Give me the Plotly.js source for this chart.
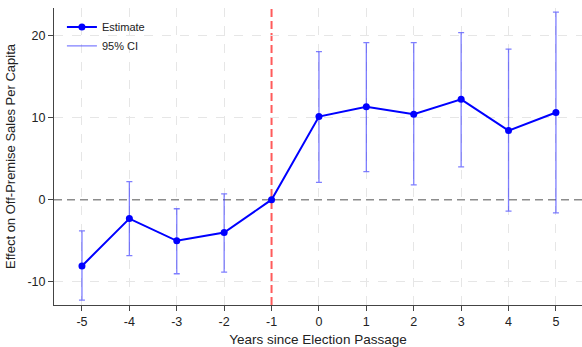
<!DOCTYPE html>
<html><head><meta charset="utf-8">
<script src="https://cdn.plot.ly/plotly-3.0.1.min.js"></script>
<style>html,body{margin:0;padding:0;background:#fff}#chart{width:582px;height:347px}</style>
</head><body><div id="chart"></div>
<script>
const years = [-5, -4, -3, -2, -1, 0, 1, 2, 3, 4, 5];
const estimate = [-8.05, -2.3, -5.0, -4.0, 0, 10.1, 11.3, 10.4, 12.2, 8.4, 10.6];
const ciUpper = [-3.8, 2.2, -1.1, 0.7, null, 18.0, 19.1, 19.1, 20.3, 18.3, 22.8];
const ciLower = [-12.2, -6.8, -9.0, -8.8, null, 2.1, 3.4, 1.8, 4.0, -1.4, -1.6];
const xTickVals = [-5, -4, -3, -2, -1, 0, 1, 2, 3, 4, 5];
const xTickText = ['-5', '-4', '-3', '-2', '-1', '0', '1', '2', '3', '4', '5'];
const yTickVals = [-10, 0, 10, 20];
const yTickText = ['-10', '0', '10', '20'];
const eventYear = -1;
const refValue = 0;

const plus = years.map((y, i) => ciUpper[i] === null ? null : ciUpper[i] - estimate[i]);
const minus = years.map((y, i) => ciLower[i] === null ? null : estimate[i] - ciLower[i]);

const xRange = [-5.59, 5.55];
const yRange = [-12.8, 23.3];
const ciColor = 'rgba(40,40,255,0.6)';
const traces = [
  {
    x: [null], y: [null], xaxis: 'x2', yaxis: 'y2', type: 'scatter', mode: 'markers',
    showlegend: false, hoverinfo: 'skip'
  },
  {
    x: years, y: estimate, type: 'scatter', mode: 'markers', showlegend: false,
    marker: {size: 0.1, color: 'rgba(0,0,0,0)'},
    error_y: {type: 'data', symmetric: false, array: plus, arrayminus: minus,
      color: ciColor, thickness: 1.3, width: 3},
    hoverinfo: 'skip'
  },
  {
    x: years, y: estimate, type: 'scatter', mode: 'lines+markers', name: 'Estimate',
    line: {color: '#0000ff', width: 2},
    marker: {color: '#0000ff', size: 7}
  },
  {
    x: [null], y: [null], type: 'scatter', mode: 'lines', name: '95% CI',
    line: {color: ciColor, width: 1.3}
  }
];

const gridStyle = {showgrid: true, gridcolor: '#e6e6e6', griddash: 'dash', gridwidth: 1,
  zeroline: false, showline: false, showticklabels: false, ticks: ''};

const layout = {
  width: 582, height: 347,
  margin: {l: 54, r: 0, t: 8, b: 42},
  paper_bgcolor: '#fff', plot_bgcolor: '#fff',
  font: {family: 'Liberation Sans, Arial, sans-serif', color: '#222', size: 12},
  xaxis: {
    range: xRange, tickvals: xTickVals, ticktext: xTickText,
    showgrid: false, zeroline: false, showline: true, linecolor: '#444', linewidth: 1,
    ticks: 'outside', ticklen: 5, tickcolor: '#444',
    tickfont: {size: 12.5, color: '#222'},
    title: {text: 'Years since Election Passage', font: {size: 13.5, color: '#222'}, standoff: 6}
  },
  yaxis: {
    range: yRange, tickvals: yTickVals, ticktext: yTickText,
    showgrid: false, zeroline: false, showline: true, linecolor: '#444', linewidth: 1,
    ticks: 'outside', ticklen: 5, tickcolor: '#444',
    tickfont: {size: 12.5, color: '#222'},
    title: {text: 'Effect on Off-Premise Sales Per Capita', font: {size: 13, color: '#222'}, standoff: 8}
  },
  xaxis2: Object.assign({overlaying: 'x', range: xRange,
    tickvals: xTickVals.filter(v => v !== eventYear)}, gridStyle),
  yaxis2: Object.assign({overlaying: 'y', range: yRange,
    tickvals: yTickVals.filter(v => v !== refValue)}, gridStyle),
  shapes: [
    {type: 'line', xref: 'paper', x0: 0, x1: 1, yref: 'y', y0: refValue, y1: refValue,
      line: {color: '#8c8c8c', width: 1.6, dash: '8px,5px'}, layer: 'between'},
    {type: 'line', xref: 'x', x0: eventYear, x1: eventYear, yref: 'paper', y0: 0, y1: 1,
      line: {color: 'rgba(255,50,50,0.8)', width: 2, dash: '8px,4px'}, layer: 'between'}
  ],
  legend: {x: 0.015, y: 0.985, xanchor: 'left', yanchor: 'top', bgcolor: 'rgba(255,255,255,0)',
    font: {size: 11, color: '#222'}, tracegroupgap: 2},
  showlegend: true
};

Plotly.newPlot('chart', traces, layout, {displayModeBar: false, staticPlot: true});
</script></body></html>
